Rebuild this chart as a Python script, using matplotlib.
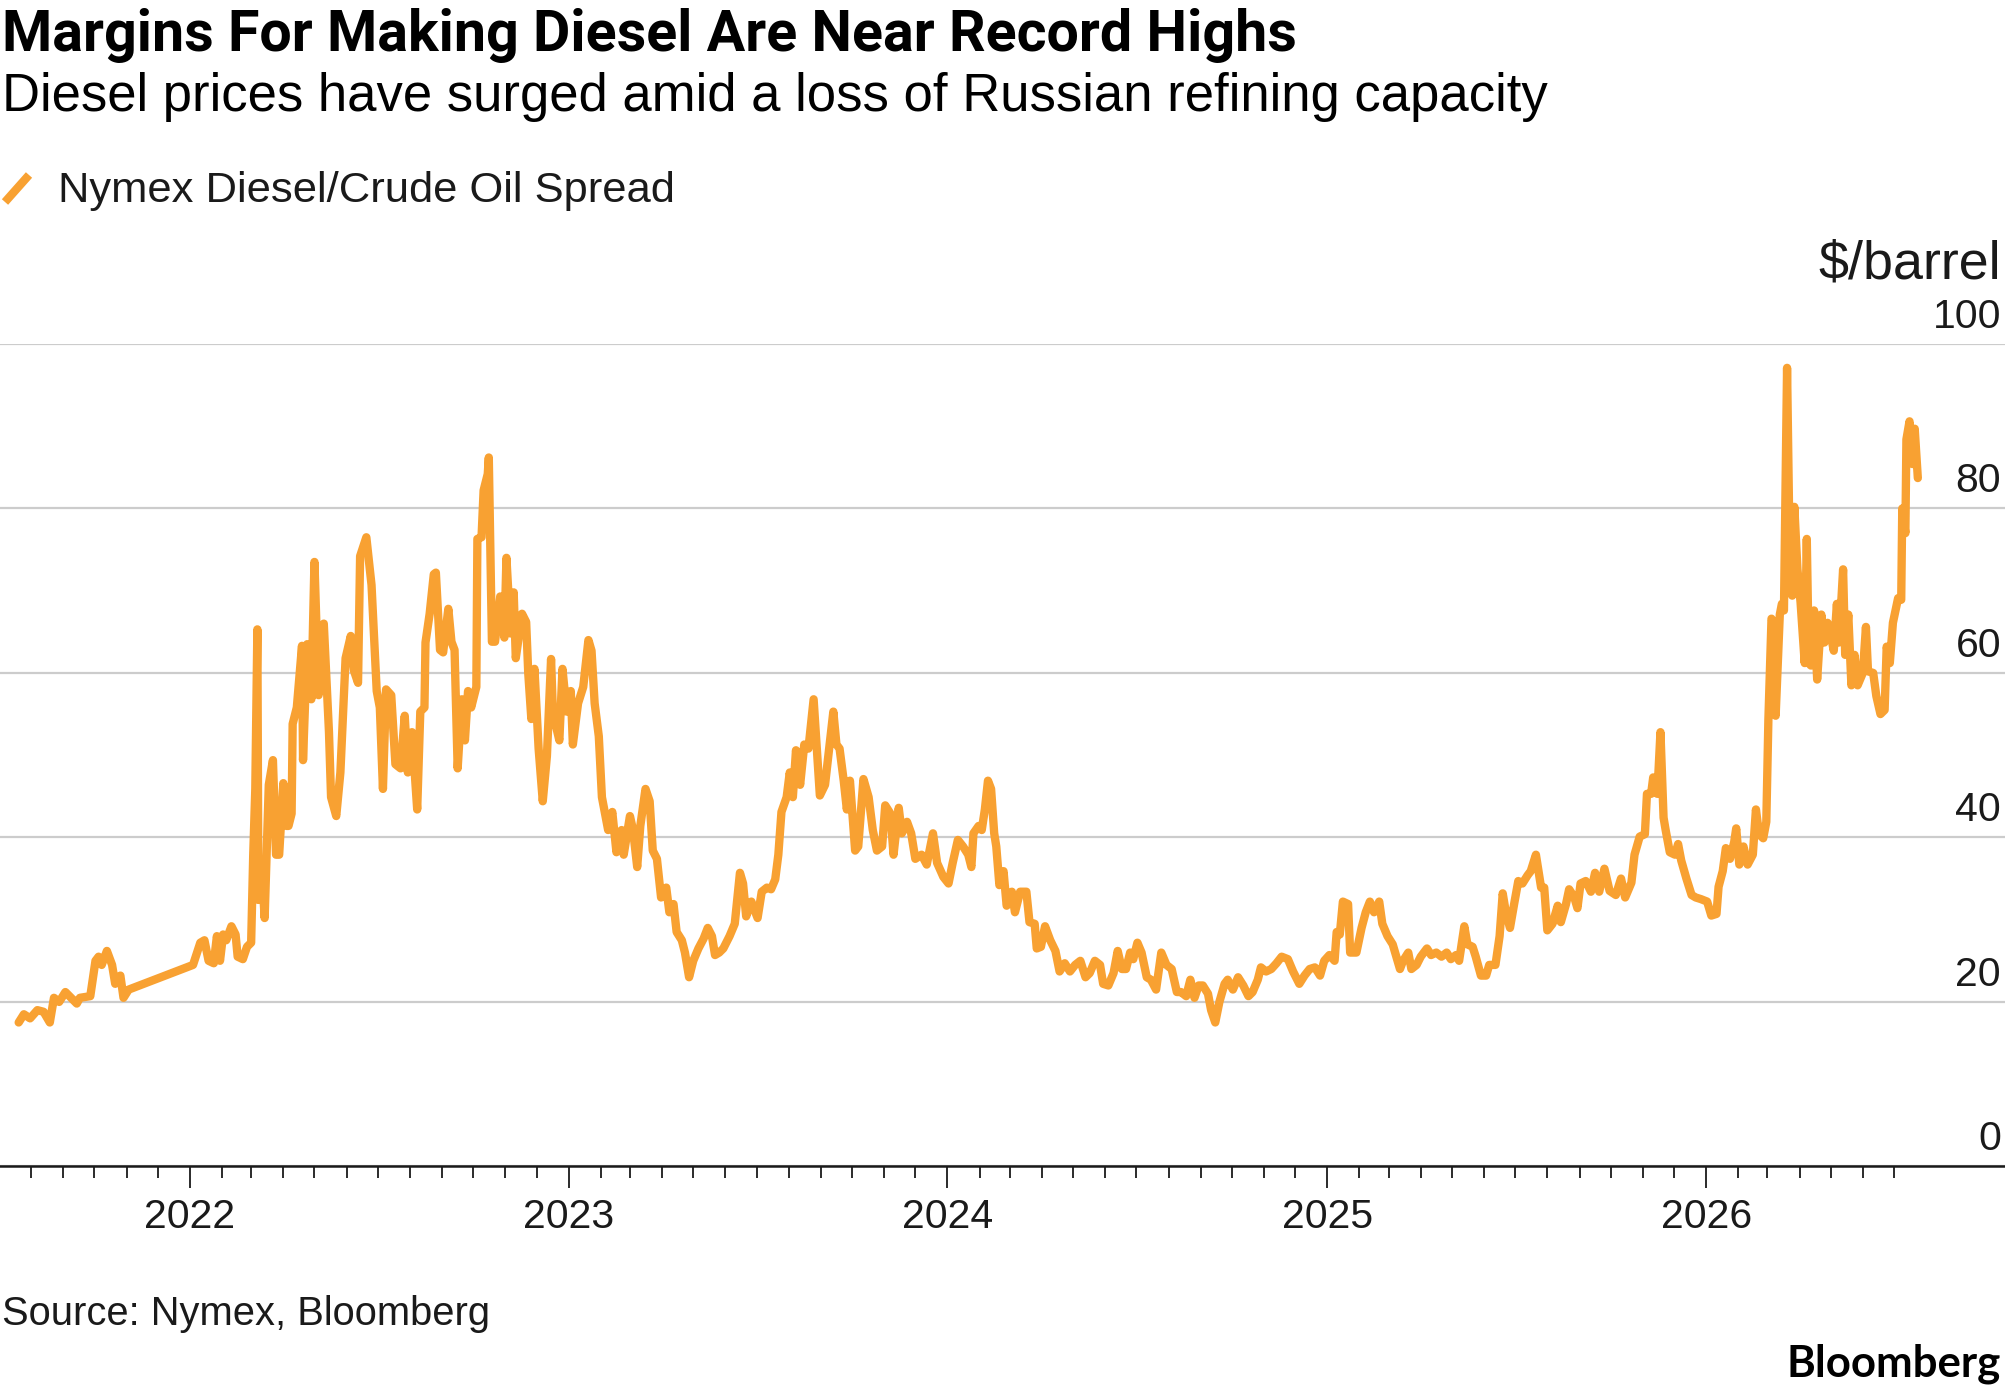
import matplotlib
matplotlib.use("Agg")
import matplotlib.pyplot as plt
import matplotlib.dates as mdates
from matplotlib import transforms
from matplotlib.lines import Line2D
from matplotlib.ticker import FixedLocator
import pandas as pd

# Nymex diesel/crude spread, $/barrel
dates = [
    "2021-07-20", "2021-07-25", "2021-07-31", "2021-08-07", "2021-08-13", "2021-08-19", "2021-08-23",
    "2021-08-28", "2021-09-03", "2021-09-14", "2021-09-17", "2021-09-27", "2021-10-02", "2021-10-05",
    "2021-10-08", "2021-10-13", "2021-10-18", "2021-10-21", "2021-10-26", "2021-10-29", "2021-11-03",
    "2022-01-04", "2022-01-11", "2022-01-15", "2022-01-19", "2022-01-24", "2022-01-27", "2022-01-30",
    "2022-02-02", "2022-02-05", "2022-02-10", "2022-02-14", "2022-02-16", "2022-02-21", "2022-02-25",
    "2022-03-01", "2022-03-03", "2022-03-05", "2022-03-07", "2022-03-08", "2022-03-11", "2022-03-14",
    "2022-03-18", "2022-03-22", "2022-03-25", "2022-03-28", "2022-04-01", "2022-04-04", "2022-04-06",
    "2022-04-09", "2022-04-10", "2022-04-14", "2022-04-19", "2022-04-20", "2022-04-24", "2022-04-28",
    "2022-05-01", "2022-05-05", "2022-05-10", "2022-05-15", "2022-05-17", "2022-05-22", "2022-05-26",
    "2022-05-31", "2022-06-05", "2022-06-08", "2022-06-12", "2022-06-14", "2022-06-20", "2022-06-25",
    "2022-06-30", "2022-07-03", "2022-07-06", "2022-07-09", "2022-07-14", "2022-07-18", "2022-07-23",
    "2022-07-27", "2022-07-30", "2022-08-03", "2022-08-08", "2022-08-11", "2022-08-15", "2022-08-16",
    "2022-08-20", "2022-08-24", "2022-08-26", "2022-08-30", "2022-09-02", "2022-09-07", "2022-09-10",
    "2022-09-13", "2022-09-16", "2022-09-20", "2022-09-23", "2022-09-26", "2022-09-29", "2022-10-04",
    "2022-10-05", "2022-10-09", "2022-10-11", "2022-10-15", "2022-10-16", "2022-10-19", "2022-10-22",
    "2022-10-27", "2022-10-31", "2022-11-02", "2022-11-06", "2022-11-09", "2022-11-11", "2022-11-17",
    "2022-11-21", "2022-11-23", "2022-11-26", "2022-11-29", "2022-12-03", "2022-12-07", "2022-12-11",
    "2022-12-15", "2022-12-17", "2022-12-20", "2022-12-23", "2022-12-26", "2022-12-30",
    "2023-01-03", "2023-01-05", "2023-01-10", "2023-01-15", "2023-01-20", "2023-01-23", "2023-01-26",
    "2023-01-30", "2023-02-02", "2023-02-05", "2023-02-08", "2023-02-12", "2023-02-16", "2023-02-21",
    "2023-02-23", "2023-03-01", "2023-03-04", "2023-03-08", "2023-03-11", "2023-03-16", "2023-03-20",
    "2023-03-23", "2023-03-27", "2023-03-31", "2023-04-05", "2023-04-08", "2023-04-12", "2023-04-15",
    "2023-04-20", "2023-04-23", "2023-04-27", "2023-05-01", "2023-05-06", "2023-05-11", "2023-05-15",
    "2023-05-19", "2023-05-22", "2023-05-26", "2023-05-30", "2023-06-05", "2023-06-10", "2023-06-15",
    "2023-06-18", "2023-06-21", "2023-06-26", "2023-07-02", "2023-07-06", "2023-07-11", "2023-07-15",
    "2023-07-19", "2023-07-22", "2023-07-25", "2023-07-30", "2023-08-02", "2023-08-05", "2023-08-08",
    "2023-08-12", "2023-08-16", "2023-08-20", "2023-08-25", "2023-08-31", "2023-09-05", "2023-09-13",
    "2023-09-16", "2023-09-19", "2023-09-23", "2023-09-26", "2023-09-29", "2023-10-04", "2023-10-07",
    "2023-10-12", "2023-10-17", "2023-10-21", "2023-10-25", "2023-10-30", "2023-11-02", "2023-11-07",
    "2023-11-10", "2023-11-15", "2023-11-18", "2023-11-23", "2023-11-27", "2023-12-01", "2023-12-07",
    "2023-12-12", "2023-12-18", "2023-12-22", "2023-12-28",
    "2024-01-02", "2024-01-06", "2024-01-11", "2024-01-16", "2024-01-21", "2024-01-24", "2024-01-26",
    "2024-01-31", "2024-02-03", "2024-02-06", "2024-02-09", "2024-02-12", "2024-02-15", "2024-02-17",
    "2024-02-20", "2024-02-24", "2024-02-27", "2024-03-03", "2024-03-06", "2024-03-11", "2024-03-17",
    "2024-03-20", "2024-03-25", "2024-03-27", "2024-03-31", "2024-04-04", "2024-04-09", "2024-04-14",
    "2024-04-18", "2024-04-23", "2024-04-28", "2024-05-03", "2024-05-08", "2024-05-13", "2024-05-17",
    "2024-05-22", "2024-05-27", "2024-05-30", "2024-06-04", "2024-06-09", "2024-06-13", "2024-06-17",
    "2024-06-21", "2024-06-25", "2024-06-28", "2024-07-02", "2024-07-06", "2024-07-11", "2024-07-15",
    "2024-07-20", "2024-07-25", "2024-07-30", "2024-08-04", "2024-08-09", "2024-08-13", "2024-08-18",
    "2024-08-22", "2024-08-26", "2024-08-30", "2024-09-03", "2024-09-08", "2024-09-11", "2024-09-15",
    "2024-09-19", "2024-09-24", "2024-09-27", "2024-10-02", "2024-10-07", "2024-10-12", "2024-10-17",
    "2024-10-21", "2024-10-26", "2024-10-29", "2024-11-03", "2024-11-08", "2024-11-13", "2024-11-18",
    "2024-11-24", "2024-11-29", "2024-12-05", "2024-12-10", "2024-12-15", "2024-12-20", "2024-12-25",
    "2024-12-29",
    "2025-01-03", "2025-01-08", "2025-01-10", "2025-01-13", "2025-01-16", "2025-01-21", "2025-01-23",
    "2025-01-29", "2025-02-03", "2025-02-07", "2025-02-11", "2025-02-15", "2025-02-20", "2025-02-23",
    "2025-02-28", "2025-03-05", "2025-03-08", "2025-03-12", "2025-03-15", "2025-03-20", "2025-03-23",
    "2025-03-28", "2025-04-01", "2025-04-07", "2025-04-11", "2025-04-16", "2025-04-21", "2025-04-26",
    "2025-04-30", "2025-05-05", "2025-05-08", "2025-05-13", "2025-05-16", "2025-05-21", "2025-05-24",
    "2025-05-29", "2025-06-03", "2025-06-06", "2025-06-12", "2025-06-16", "2025-06-19", "2025-06-22",
    "2025-06-26", "2025-06-30", "2025-07-04", "2025-07-08", "2025-07-13", "2025-07-16", "2025-07-21",
    "2025-07-26", "2025-07-29", "2025-08-01", "2025-08-06", "2025-08-11", "2025-08-14", "2025-08-19",
    "2025-08-22", "2025-08-27", "2025-08-30", "2025-09-02", "2025-09-07", "2025-09-12", "2025-09-16",
    "2025-09-20", "2025-09-25", "2025-09-30", "2025-10-06", "2025-10-11", "2025-10-15", "2025-10-21",
    "2025-10-24", "2025-10-29", "2025-11-03", "2025-11-05", "2025-11-09", "2025-11-11", "2025-11-15",
    "2025-11-18", "2025-11-21", "2025-11-23", "2025-11-27", "2025-12-02", "2025-12-05", "2025-12-08",
    "2025-12-13", "2025-12-18", "2025-12-22", "2025-12-27",
    "2026-01-02", "2026-01-06", "2026-01-11", "2026-01-13", "2026-01-17", "2026-01-20", "2026-01-24",
    "2026-01-28", "2026-01-30", "2026-02-02", "2026-02-06", "2026-02-10", "2026-02-15", "2026-02-18",
    "2026-02-21", "2026-02-25", "2026-02-28", "2026-03-02", "2026-03-05", "2026-03-07", "2026-03-09",
    "2026-03-13", "2026-03-15", "2026-03-17", "2026-03-20", "2026-03-23", "2026-03-25", "2026-03-27",
    "2026-03-30", "2026-04-02", "2026-04-06", "2026-04-08", "2026-04-10", "2026-04-12", "2026-04-15",
    "2026-04-18", "2026-04-22", "2026-04-25", "2026-04-28", "2026-05-01", "2026-05-04", "2026-05-07",
    "2026-05-09", "2026-05-13", "2026-05-15", "2026-05-18", "2026-05-21", "2026-05-24", "2026-05-27",
    "2026-06-01", "2026-06-04", "2026-06-06", "2026-06-11", "2026-06-14", "2026-06-18", "2026-06-22",
    "2026-06-24", "2026-06-27", "2026-06-30", "2026-07-05", "2026-07-08", "2026-07-09", "2026-07-12",
    "2026-07-13", "2026-07-16", "2026-07-19", "2026-07-21", "2026-07-24",
]
spread = [
    17.5, 18.5, 18.0, 19.0, 18.8, 17.5, 20.5,
    20.0, 21.2, 19.8, 20.5, 20.7, 25.0, 25.5,
    24.5, 26.2, 24.5, 22.2, 23.2, 20.5, 21.5,
    24.5, 27.2, 27.5, 25.0, 24.7, 28.0, 25.0,
    28.2, 27.5, 29.2, 28.2, 25.5, 25.2, 26.7,
    27.2, 37.9, 45.9, 65.3, 32.4, 36.9, 30.2,
    46.4, 49.4, 37.9, 37.9, 46.6, 41.4, 41.4,
    42.9, 53.8, 55.8, 63.3, 49.4, 63.5, 56.8,
    73.5, 57.3, 66.0, 52.8, 44.9, 42.6, 47.9,
    61.8, 64.5, 60.3, 58.8, 74.2, 76.5, 70.7,
    57.8, 55.8, 45.9, 58.0, 57.3, 48.9, 48.4,
    54.8, 47.9, 52.8, 43.4, 55.3, 55.8, 63.7,
    67.2, 72.0, 72.2, 62.8, 62.5, 67.8, 63.8,
    62.8, 48.4, 56.8, 51.8, 57.8, 55.8, 58.3,
    76.3, 76.5, 82.2, 84.2, 86.2, 63.8, 63.8,
    69.3, 64.3, 74.0, 64.8, 69.8, 61.8, 67.2,
    66.2, 60.0, 54.4, 60.5, 50.8, 44.4, 49.9,
    61.7, 54.4, 53.4, 51.8, 60.5, 55.3,
    57.8, 51.3, 56.3, 58.3, 64.0, 62.7, 56.3,
    52.3, 44.9, 42.9, 40.9, 43.1, 38.2, 40.9,
    37.9, 42.6, 40.9, 36.4, 41.4, 45.9, 44.4,
    38.4, 37.4, 32.7, 33.9, 30.9, 31.9, 28.5,
    27.5, 26.0, 23.0, 25.0, 26.5, 27.7, 29.0,
    28.0, 25.7, 26.0, 26.5, 28.0, 29.5, 35.7,
    34.4, 30.4, 32.2, 30.2, 33.4, 33.9, 33.7,
    34.9, 37.9, 43.1, 44.9, 47.9, 44.9, 50.6,
    46.4, 51.3, 50.8, 56.8, 45.1, 46.4, 55.3,
    51.3, 50.8, 46.9, 43.4, 46.9, 38.4, 38.9,
    47.1, 44.9, 40.9, 38.4, 38.9, 43.9, 42.9,
    37.9, 43.6, 40.5, 41.9, 40.5, 37.4, 37.9,
    36.7, 40.5, 36.9, 35.2,
    34.4, 36.9, 39.7, 38.9, 37.9, 36.4, 40.5,
    41.4, 40.9, 43.4, 46.9, 45.9, 40.5, 38.9,
    34.2, 35.9, 31.7, 33.4, 30.9, 33.4, 33.4,
    29.7, 29.5, 26.5, 26.7, 29.2, 27.5, 26.2,
    23.7, 24.7, 23.7, 24.5, 25.0, 23.0, 23.5,
    25.0, 24.5, 22.2, 22.0, 23.5, 26.2, 24.0,
    24.0, 26.0, 25.2, 27.2, 26.0, 23.0, 22.7,
    21.5, 26.0, 24.5, 24.0, 21.2, 21.2, 20.7,
    22.7, 20.5, 22.0, 22.0, 21.0, 19.0, 17.5,
    20.0, 22.2, 22.7, 21.5, 23.0, 22.0, 20.7,
    21.2, 22.7, 24.2, 23.7, 24.0, 24.7, 25.5,
    25.2, 23.7, 22.2, 23.2, 24.0, 24.2, 23.2,
    25.0,
    25.7, 25.0, 28.5, 28.2, 32.2, 31.9, 26.0,
    26.0, 29.0, 30.9, 32.2, 30.9, 32.2, 29.5,
    28.0, 27.0, 25.7, 24.0, 25.0, 26.0, 24.0,
    24.5, 25.5, 26.5, 25.7, 26.0, 25.5, 26.0,
    25.2, 25.7, 25.0, 29.2, 27.0, 26.7, 25.5,
    23.2, 23.2, 24.5, 24.5, 28.0, 33.2, 30.9,
    29.0, 31.9, 34.7, 34.4, 35.4, 35.9, 37.9,
    33.9, 33.9, 28.7, 29.5, 31.7, 29.7, 31.9,
    33.7, 32.7, 31.4, 34.4, 34.7, 33.4, 35.7,
    33.4, 36.2, 33.5, 33.0, 35.0, 32.7, 34.5,
    37.9, 40.1, 40.4, 45.3, 45.3, 47.3, 45.3,
    52.8, 42.4, 40.9, 38.2, 37.9, 39.2, 37.2,
    35.0, 33.0, 32.7, 32.5,
    32.2, 30.5, 30.7, 34.0, 35.9, 38.7, 37.4,
    39.4, 41.1, 36.7, 38.9, 36.7, 37.9, 43.4,
    40.4, 39.9, 41.9, 54.3, 66.6, 66.1, 54.8,
    67.1, 68.4, 67.6, 97.1, 70.1, 69.4, 80.2,
    72.6, 68.6, 61.2, 76.3, 61.2, 60.9, 67.6,
    59.2, 67.1, 63.7, 66.1, 64.7, 62.7, 68.4,
    63.7, 72.6, 62.2, 67.1, 58.5, 62.2, 58.5,
    60.0, 65.6, 60.2, 60.0, 57.2, 55.0, 55.5,
    63.2, 61.2, 66.1, 69.1, 68.9, 80.0, 77.0,
    88.4, 90.6, 85.4, 89.7, 83.7,
]

title = "Margins For Making Diesel Are Near Record Highs"
subtitle = "Diesel prices have surged amid a loss of Russian refining capacity"
series_name = "Nymex Diesel/Crude Oil Spread"
unit = "$/barrel"
source = "Source: Nymex, Bloomberg"
y_ticks = [0, 20, 40, 60, 80, 100]
year_labels = ["2022", "2023", "2024", "2025", "2026"]

ORANGE = "#f8a132"
W, H, DPI = 2005, 1392, 100

plt.rcParams['font.family'] = ['Liberation Sans', 'DejaVu Sans']

fig = plt.figure(figsize=(W / DPI, H / DPI), dpi=DPI)
fig.patch.set_facecolor("white")

# plot area: y=0 sits at 1166px, y=100 at 344px from the top
ax = fig.add_axes([0, 1 - 1166.4 / H, 1, (1166.4 - 344) / H])

x = pd.to_datetime(dates)
ax.plot(x, spread, color=ORANGE, lw=6, solid_joinstyle='round',
        solid_capstyle='round', zorder=3, clip_on=False)

ax.set_xlim(pd.Timestamp("2021-07-02"), pd.Timestamp("2026-10-16"))
ax.set_ylim(0, 100)

for s in ["top", "left", "right"]:
    ax.spines[s].set_visible(False)
ax.spines["bottom"].set_linewidth(1.8)
ax.spines["bottom"].set_color("#1a1a1a")
ax.spines["bottom"].set_zorder(4)

ax.set_yticks(y_ticks)
ax.tick_params(axis='y', length=0, labelleft=False)
ax.grid(axis='y', color='#cccccc', lw=1.6)
ax.set_axisbelow(True)

years = pd.to_datetime([f"{y}-01-01" for y in year_labels])
months = [m for m in pd.date_range("2021-08-01", "2026-07-01", freq="MS") if m.month != 1]
ax.xaxis.set_major_locator(FixedLocator(mdates.date2num(years)))
ax.xaxis.set_minor_locator(FixedLocator(mdates.date2num(months)))
ax.tick_params(axis='x', which='major', length=16, width=1.3, color='#1a1a1a', labelbottom=False)
ax.tick_params(axis='x', which='minor', length=8.6, width=1.3, color='#1a1a1a')

# right-hand value labels, sitting above their gridlines
ylab_tr = transforms.offset_copy(
    transforms.blended_transform_factory(ax.transAxes, ax.transData), fig=fig, y=16, units='dots')
for v in y_ticks:
    ax.text(2001 / W, v, str(v), transform=ylab_tr, ha='right', va='baseline',
            fontsize=29.5, color='#1a1a1a')

# year labels under the long ticks
yr_tr = transforms.offset_copy(
    transforms.blended_transform_factory(ax.transData, ax.transAxes), fig=fig, y=-62, units='dots')
for d, lab in zip(years, year_labels):
    ax.text(mdates.date2num(d), 0, lab, transform=yr_tr, ha='center', va='baseline',
            fontsize=29.5, color='#1a1a1a')


def fy(px):
    return 1 - px / H


t_title = fig.text(2 / W, fy(51), title, fontsize=36, fontweight='bold', color='black',
                   family=['Roboto', 'Liberation Sans'], ha='left', va='baseline')
t_sub = fig.text(2 / W, fy(111), subtitle, fontsize=34, color='black', ha='left', va='baseline')
t_leg = fig.text(57.5 / W, fy(202), series_name, fontsize=28, color='#1a1a1a',
                 ha='left', va='baseline')
t_unit = fig.text(2001 / W, fy(279), unit, fontsize=29.5, color='#1a1a1a', ha='right', va='baseline')
t_src = fig.text(2 / W, fy(1325), source, fontsize=26, color='#1a1a1a', ha='left', va='baseline')
t_logo = fig.text(2001 / W, fy(1376), "Bloomberg", fontsize=26, fontweight='bold',
                  family=['Lato', 'DejaVu Sans'], color='black', ha='right', va='baseline')

fig.add_artist(Line2D([5 / W, 29 / W], [fy(202), fy(175)], transform=fig.transFigure,
                      color=ORANGE, lw=6, solid_capstyle='butt'))

# scale each header/footer text to the width it takes in the reference
targets = [(t_title, 1294), (t_sub, 1543), (t_leg, 616), (t_unit, 183), (t_src, 488), (t_logo, 214)]
fig.canvas.draw()
r = fig.canvas.get_renderer()
for t, w in targets:
    bb = t.get_window_extent(r)
    t.set_fontsize(t.get_fontsize() * w / bb.width)

fig.savefig("out.png", dpi=DPI, facecolor="white")
